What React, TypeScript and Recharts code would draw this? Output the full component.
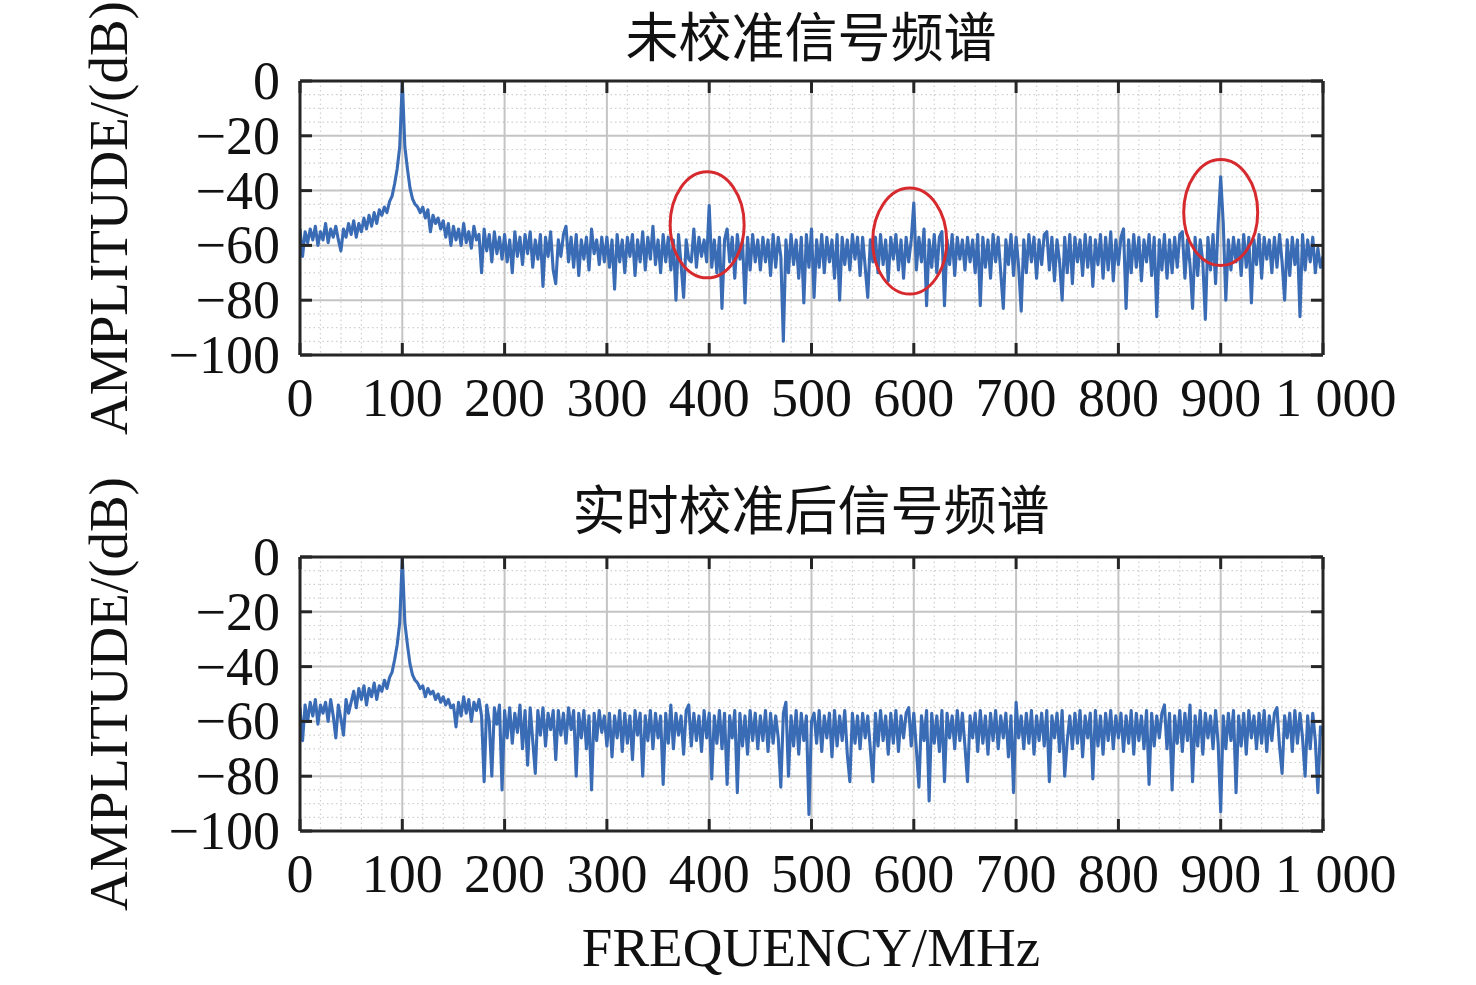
import React from 'react';
import { LineChart, Line, XAxis, YAxis, CartesianGrid, ReferenceDot } from 'recharts';

// ---------- data (dB values every 2.5 MHz, 0..1000 MHz) ----------
const FREQ_STEP = 2.5;

const uncalibrated: number[] = [
  -54, -64, -55, -59, -54, -58, -53, -60, -55, -58, -52, -59, -54, -57, -53, -58, -62, -54, -57, -52,
  -56, -51, -57, -52, -55, -50, -54, -49, -53, -48, -52, -47, -49, -46, -48, -44, -42, -37.5, -32, -24,
  0, -24, -32, -39, -43, -45, -46, -48, -46, -50, -47, -55, -49, -52, -50, -54, -51, -57, -52, -60,
  -53, -58, -54, -60, -52, -59, -55, -61, -53, -58, -56, -70, -54, -62, -56, -66, -55, -63, -57, -65,
  -56, -66, -58, -70, -55, -64, -57, -67, -56, -63, -55, -68, -58, -65, -56, -75, -57, -64, -55, -69,
  -74, -58, -64, -56, -53, -66, -57, -68, -56, -71, -58, -65, -57, -69, -54, -63, -58, -67, -57, -66,
  -57, -68, -58, -76, -56, -66, -58, -70, -57, -64, -56, -71, -58, -66, -55, -69, -57, -65, -53, -67,
  -58, -70, -56, -66, -57, -69, -58, -80, -56, -67, -79, -58, -65, -66, -54, -68, -57, -64, -58, -66,
  -45.5, -68, -58, -70, -57, -83, -58, -54, -66, -57, -72, -56, -65, -58, -81, -57, -69, -56, -66, -58,
  -69, -57, -66, -58, -71, -56, -68, -57, -64, -95, -58, -70, -56, -67, -58, -72, -57, -81, -56, -68,
  -54, -79, -58, -68, -56, -70, -57, -66, -58, -72, -56, -80, -57, -67, -58, -69, -56, -65, -57, -71,
  -57, -68, -79, -58, -66, -57, -70, -56, -67, -58, -73, -57, -65, -56, -69, -58, -72, -57, -66, -58,
  -44.5, -69, -57, -66, -54, -82, -58, -68, -56, -70, -57, -55, -82, -58, -67, -56, -71, -57, -65, -58,
  -69, -57, -66, -58, -70, -56, -82, -57, -68, -58, -72, -56, -66, -57, -70, -83, -58, -67, -56, -71,
  -57, -68, -84, -58, -70, -56, -66, -57, -72, -58, -67, -56, -55, -69, -57, -73, -58, -66, -80, -57,
  -70, -56, -74, -57, -66, -58, -71, -56, -68, -57, -75, -58, -67, -56, -72, -57, -69, -55, -73, -58,
  -67, -57, -54, -83, -58, -70, -56, -68, -57, -73, -58, -66, -56, -71, -57, -86, -58, -69, -56, -72,
  -58, -70, -57, -68, -56, -55, -72, -58, -67, -83, -57, -71, -58, -66, -87, -57, -69, -56, -74, -52,
  -35, -52, -80, -58, -69, -57, -66, -58, -71, -56, -68, -57, -81, -58, -67, -56, -72, -57, -65, -58,
  -70, -57, -68, -56, -66, -80, -58, -71, -57, -67, -58, -86, -56, -69, -58, -66, -57, -70, -61, -68,
  -64,
];

const calibrated: number[] = [
  -55, -67, -54, -60, -53, -58, -52, -61, -54, -57, -53, -60, -52, -58, -66, -54, -59, -65, -52, -57,
  -53, -49, -55, -48, -52, -47, -54, -48, -51, -46, -52, -47, -49, -45, -48, -44, -42, -37.5, -32, -24,
  0, -24, -32, -39, -43, -45, -46, -48, -47, -51, -48, -50, -49, -52, -50, -53, -51, -54, -52, -55,
  -54, -62, -53, -58, -51, -57, -52, -60, -53, -56, -52, -58, -82, -54, -60, -80, -55, -61, -54, -85,
  -56, -66, -55, -68, -57, -64, -54, -70, -56, -76, -55, -67, -79, -56, -65, -55, -69, -57, -63, -56,
  -74, -56, -65, -57, -68, -55, -63, -56, -80, -57, -66, -56, -70, -58, -85, -57, -67, -56, -64, -58,
  -69, -57, -73, -58, -66, -56, -71, -57, -68, -58, -74, -56, -65, -57, -80, -58, -67, -56, -70, -57,
  -66, -58, -83, -57, -68, -54, -70, -57, -65, -58, -72, -56, -54, -69, -57, -67, -58, -71, -56, -66,
  -57, -81, -58, -68, -56, -70, -57, -83, -58, -66, -56, -86, -57, -69, -58, -72, -56, -67, -57, -70,
  -58, -67, -56, -71, -57, -68, -58, -66, -84, -57, -53, -80, -58, -69, -56, -72, -57, -67, -58, -94,
  -60, -57, -68, -56, -71, -58, -66, -57, -73, -56, -69, -58, -67, -56, -72, -82, -57, -68, -58, -70,
  -57, -66, -58, -70, -82, -57, -69, -56, -67, -58, -72, -57, -68, -56, -71, -58, -66, -57, -55, -69,
  -57, -70, -84, -58, -67, -56, -89, -57, -68, -58, -71, -56, -82, -57, -66, -58, -70, -56, -67, -57,
  -69, -82, -58, -66, -57, -71, -56, -68, -58, -72, -57, -67, -56, -70, -58, -66, -57, -73, -58, -86,
  -53, -66, -58, -70, -57, -68, -56, -72, -58, -67, -57, -69, -56, -82, -58, -66, -57, -71, -56, -80,
  -67, -58, -70, -57, -68, -56, -73, -58, -66, -57, -81, -56, -69, -58, -72, -57, -67, -56, -70, -58,
  -66, -57, -71, -58, -68, -56, -72, -57, -67, -58, -70, -56, -83, -57, -69, -58, -66, -57, -54, -70,
  -57, -85, -58, -68, -56, -71, -57, -67, -54, -82, -58, -69, -56, -72, -57, -66, -58, -70, -56, -68,
  -93, -58, -70, -57, -67, -56, -86, -58, -69, -57, -72, -56, -66, -58, -70, -57, -68, -56, -71, -58,
  -67, -57, -55, -69, -79, -58, -66, -57, -71, -56, -68, -57, -66, -80, -58, -70, -57, -67, -86, -62,
  -65,
];

// ticks
const xTicks = [0, 100, 200, 300, 400, 500, 600, 700, 800, 900, 1000];
const xTickLabels = ['0', '100', '200', '300', '400', '500', '600', '700', '800', '900', '1 000'];
const yTicks = [0, -20, -40, -60, -80, -100];
const yTickLabels = ['0', '\u221220', '\u221240', '\u221260', '\u221280', '\u2212100'];
const minorX = Array.from({ length: 51 }, (_, i) => i * 20).filter((v) => v % 100 !== 0);
const minorY = Array.from({ length: 21 }, (_, i) => -i * 5).filter((v) => v % 20 !== 0);

// circled spurs in the uncalibrated spectrum [MHz, dB]
const spurMarks = [
  { f: 398, db: -52.5 },
  { f: 596, db: -58.4 },
  { f: 900, db: -48 },
];

const titles = ['未校准信号频谱', '实时校准后信号频谱'];
const yLabel = 'AMPLITUDE/(dB)';
const xLabel = 'FREQUENCY/MHz';

const buildRows = (vals: number[]) => vals.map((v, i) => ({ f: i * FREQ_STEP, v }));
const topRows = buildRows(uncalibrated);
const bottomRows = buildRows(calibrated);

// ---------- styles ----------
const SERIF = "'Liberation Serif', 'Times New Roman', serif";
const CJK = "'Noto Sans CJK SC', sans-serif";
const AXIS = '#262626';
const LINE = '#3A6BB5';
const TICK_FS = 54;
const TICK_LEN = 12;

const BottomTick = (p: any) => {
  const idx = xTicks.indexOf(p.payload.value);
  const last = idx === xTicks.length - 1;
  return (
    <g>
      <line x1={p.x} y1={p.y} x2={p.x} y2={p.y - TICK_LEN} stroke={AXIS} strokeWidth={3} />
      <text
        x={last ? p.x - 48 : p.x}
        y={p.y + 61}
        textAnchor={last ? 'start' : 'middle'}
        fontFamily={SERIF}
        fontSize={TICK_FS}
        fill="#111"
        style={{ whiteSpace: 'pre' }}
      >
        {xTickLabels[idx]}
      </text>
    </g>
  );
};

const TopTick = (p: any) => (
  <line x1={p.x} y1={p.y} x2={p.x} y2={p.y + TICK_LEN} stroke={AXIS} strokeWidth={3} />
);

const LeftTick = (p: any) => {
  const idx = yTicks.indexOf(p.payload.value);
  return (
    <g>
      <line x1={p.x} y1={p.y} x2={p.x + TICK_LEN} y2={p.y} stroke={AXIS} strokeWidth={3} />
      <text x={p.x - 20} y={p.y + 18} textAnchor="end" fontFamily={SERIF} fontSize={TICK_FS} fill="#111">
        {yTickLabels[idx]}
      </text>
    </g>
  );
};

const RightTick = (p: any) => (
  <line x1={p.x} y1={p.y} x2={p.x - TICK_LEN} y2={p.y} stroke={AXIS} strokeWidth={3} />
);

const Ellipse = (p: any) => (
  <ellipse cx={p.cx} cy={p.cy} rx={37} ry={53} fill="none" stroke="#D62A2E" strokeWidth={3} />
);

function Panel({ rows, marks }: { rows: { f: number; v: number }[]; marks: { f: number; db: number }[] }) {
  return (
    <LineChart width={1476} height={440} data={rows} margin={{ top: 80, right: 152, left: 0, bottom: 0 }}>
      <CartesianGrid
        xAxisId="b"
        yAxisId="l"
        verticalValues={minorX}
        horizontalValues={minorY}
        stroke="#cfcfcf"
        strokeWidth={1.2}
        strokeDasharray="1.5 3"
      />
      <CartesianGrid xAxisId="b" yAxisId="l" stroke="#c4c4c4" strokeWidth={2} />
      <XAxis
        xAxisId="b"
        dataKey="f"
        type="number"
        domain={[0, 1000]}
        allowDataOverflow
        ticks={xTicks}
        interval={0}
        height={85}
        tickSize={0}
        tickMargin={0}
        tickLine={false}
        axisLine={{ stroke: AXIS, strokeWidth: 3 }}
        tick={<BottomTick />}
      />
      <XAxis
        xAxisId="t"
        orientation="top"
        dataKey="f"
        type="number"
        domain={[0, 1000]}
        allowDataOverflow
        ticks={xTicks}
        interval={0}
        height={1}
        tickSize={0}
        tickMargin={0}
        tickLine={false}
        axisLine={{ stroke: AXIS, strokeWidth: 3 }}
        tick={<TopTick />}
      />
      <YAxis
        yAxisId="l"
        type="number"
        domain={[-100, 0]}
        allowDataOverflow
        ticks={yTicks}
        interval={0}
        width={300}
        tickSize={0}
        tickMargin={0}
        tickLine={false}
        axisLine={{ stroke: AXIS, strokeWidth: 3 }}
        tick={<LeftTick />}
      />
      <YAxis
        yAxisId="r"
        orientation="right"
        type="number"
        domain={[-100, 0]}
        allowDataOverflow
        ticks={yTicks}
        interval={0}
        width={1}
        tickSize={0}
        tickMargin={0}
        tickLine={false}
        axisLine={{ stroke: AXIS, strokeWidth: 3 }}
        tick={<RightTick />}
      />
      <Line
        xAxisId="b"
        yAxisId="l"
        type="linear"
        dataKey="v"
        stroke={LINE}
        strokeWidth={3.1}
        strokeLinejoin="round"
        dot={false}
        activeDot={false}
        isAnimationActive={false}
      />
      {marks.map((m, i) => (
        <ReferenceDot key={i} xAxisId="b" yAxisId="l" x={m.f} y={m.db} r={1} shape={<Ellipse />} />
      ))}
    </LineChart>
  );
}

const titleStyle = (top: number): React.CSSProperties => ({
  position: 'absolute',
  left: 311,
  top,
  width: 1000,
  textAlign: 'center',
  fontFamily: CJK,
  fontSize: 53,
  lineHeight: '53px',
  color: '#111',
  whiteSpace: 'nowrap',
});

export default function App() {
  return (
    <div style={{ position: 'absolute', left: 0, top: 0, width: 1476, height: 985, background: '#fff' }}>
      <div style={{ position: 'absolute', left: 0, top: 0 }}>
        <Panel rows={topRows} marks={spurMarks} />
      </div>
      <div style={{ position: 'absolute', left: 0, top: 476 }}>
        <Panel rows={bottomRows} marks={[]} />
      </div>
      <div style={titleStyle(8)}>{titles[0]}</div>
      <div style={titleStyle(481)}>{titles[1]}</div>
      <svg width={1476} height={985} style={{ position: 'absolute', left: 0, top: 0, pointerEvents: 'none' }}>
        <text
          transform="translate(127,218) rotate(-90)"
          textAnchor="middle"
          fontFamily={SERIF}
          fontSize={55}
          fill="#111"
        >
          {yLabel}
        </text>
        <text
          transform="translate(127,694) rotate(-90)"
          textAnchor="middle"
          fontFamily={SERIF}
          fontSize={55}
          fill="#111"
        >
          {yLabel}
        </text>
        <text x={811} y={966} textAnchor="middle" fontFamily={SERIF} fontSize={55} fill="#111">
          {xLabel}
        </text>
      </svg>
    </div>
  );
}
